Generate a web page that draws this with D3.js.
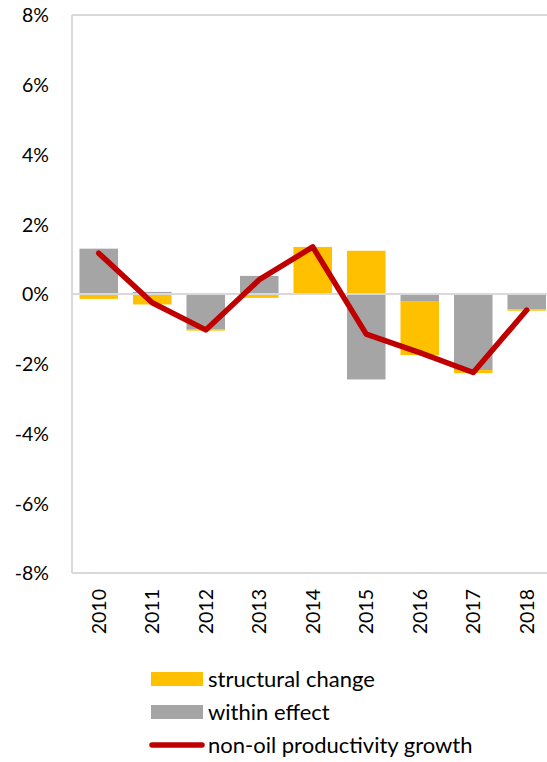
<!DOCTYPE html>
<html><head><meta charset="utf-8">
<script src="https://cdn.jsdelivr.net/npm/d3@7"></script>
<style>body{margin:0;background:#fff;}svg{display:block;font-family:Lato,"Open Sans",sans-serif;}</style>
</head><body>
<svg id="c" width="547" height="762"></svg>
<script>
const years = ["2010","2011","2012","2013","2014","2015","2016","2017","2018"];
const structural = [-0.14,-0.30,-0.03,-0.11,1.35,1.24,-1.53,-0.09,-0.04];
const within = [1.30,0.06,-1.02,0.52,0.00,-2.45,-0.22,-2.18,-0.44];
const growth = [1.17,-0.25,-1.03,0.41,1.35,-1.15,-1.68,-2.25,-0.46];
const yTicks = [-8,-6,-4,-2,0,2,4,6,8];
const seriesNames = ["structural change","within effect","non-oil productivity growth"];
const colors = {structural:"#FFC000", within:"#A5A5A5", line:"#C00000", axis:"#D9D9D9"};

const svg = d3.select("#c");
const L = 72, R = 553.5, T = 15, B = 573;
const x = d3.scaleBand().domain(years).range([L, R]).paddingInner(0.28).paddingOuter(0.14);
const y = d3.scaleLinear().domain([-8, 8]).range([B, T]);

const rows = years.map((yr,i)=>({year:yr, within:within[i], structural:structural[i]}));
const stack = d3.stack().keys(["within","structural"]).offset(d3.stackOffsetDiverging);
const layers = stack(rows);

// bars
svg.append("g").selectAll("g").data(layers).join("g")
  .attr("fill", d => colors[d.key])
  .selectAll("rect").data(d => d).join("rect")
  .attr("x", d => x(d.data.year))
  .attr("width", x.bandwidth())
  .attr("y", d => y(Math.max(d[0], d[1])))
  .attr("height", d => Math.abs(y(d[0]) - y(d[1])));

// frame lines
svg.append("line").attr("x1",L).attr("x2",547).attr("y1",T).attr("y2",T).attr("stroke",colors.axis).attr("stroke-width",2);
svg.append("line").attr("x1",L).attr("x2",547).attr("y1",B).attr("y2",B).attr("stroke",colors.axis).attr("stroke-width",2);
svg.append("line").attr("x1",L).attr("x2",L).attr("y1",T).attr("y2",B).attr("stroke",colors.axis).attr("stroke-width",2);
svg.append("line").attr("x1",L).attr("x2",547).attr("y1",y(0)).attr("y2",y(0)).attr("stroke",colors.axis).attr("stroke-width",2);

// y axis labels
const yAxis = d3.axisLeft(y).tickValues(yTicks).tickFormat(d => d + "%").tickSize(0).tickPadding(0);
const gy = svg.append("g").attr("transform", "translate(49,0)").call(yAxis);
gy.select(".domain").remove();
gy.selectAll("text").attr("font-size", 19.5).attr("fill", "#000").attr("font-family","Lato,sans-serif").attr("dy","0.35em");

// x axis labels
const xAxis = d3.axisBottom(x).tickSize(0).tickPadding(0);
const gx = svg.append("g").attr("transform", `translate(0,${B})`).call(xAxis);
gx.select(".domain").remove();
gx.selectAll("text").attr("font-size", 19.5).attr("fill","#000").attr("font-family","Lato,sans-serif")
  .attr("transform","rotate(-90)").attr("text-anchor","end").attr("x",-16).attr("y",0).attr("dy","0.35em");

// line
const line = d3.line().x((d,i)=>x(years[i]) + x.bandwidth()/2).y(d=>y(d));
svg.append("path").datum(growth).attr("d", line).attr("fill","none")
  .attr("stroke", colors.line).attr("stroke-width", 5.5).attr("stroke-linejoin","round").attr("stroke-linecap","round");

// legend
const lg = svg.append("g");
const ly = [679, 712, 745];
lg.append("rect").attr("x",151).attr("y",ly[0]-7).attr("width",52).attr("height",14).attr("fill",colors.structural);
lg.append("rect").attr("x",151).attr("y",ly[1]-7).attr("width",52).attr("height",14).attr("fill",colors.within);
lg.append("line").attr("x1",152).attr("x2",202).attr("y1",ly[2]).attr("y2",ly[2]).attr("stroke",colors.line).attr("stroke-width",5.5).attr("stroke-linecap","round");
seriesNames.forEach((n,i)=>{
  lg.append("text").attr("x",208).attr("y",ly[i]).attr("dy","0.35em").attr("font-size",22).attr("fill","#000").text(n);
});
</script>
</body></html>
